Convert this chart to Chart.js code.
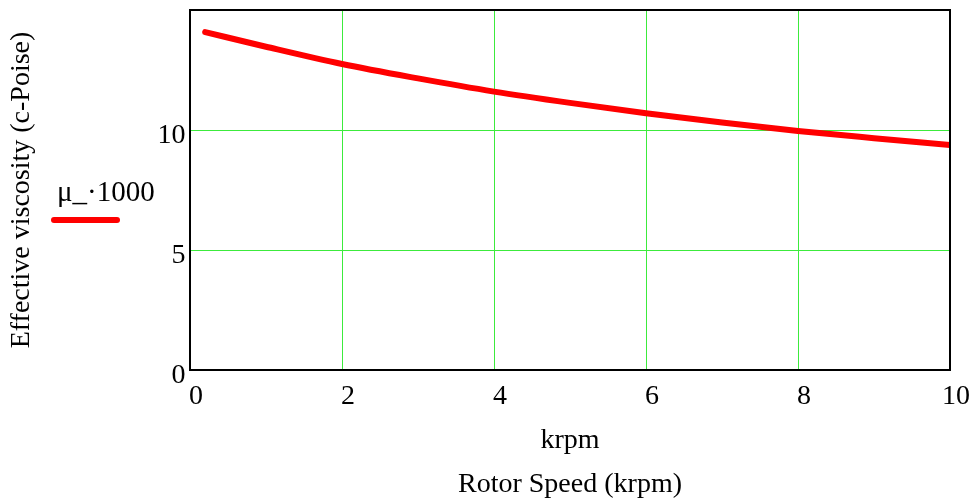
<!DOCTYPE html>
<html>
<head>
<meta charset="utf-8">
<script src="https://cdn.jsdelivr.net/npm/chart.js@4"></script>
<style>
  html, body { margin: 0; padding: 0; background: #ffffff; }
  #wrap { width: 973px; height: 502px; position: relative; }
</style>
</head>
<body>
<div id="wrap"><canvas id="c" width="973" height="502"></canvas></div>
<script>
// Rotor speed (krpm)
const speedKrpm = [0.2, 1, 2, 3, 4, 5, 6, 7, 8, 9, 10];
// Effective viscosity μ_·1000 (c-Poise)
const viscosity = [14.08, 13.47, 12.75, 12.15, 11.60, 11.13, 10.70, 10.31, 9.96, 9.66, 9.375];
const xTicks = [0, 2, 4, 6, 8, 10];
const yTicks = [0, 5, 10];
const seriesLabel = 'μ_·1000';
const xAxisTitle = 'krpm';
const chartTitle = 'Rotor Speed (krpm)';
const yAxisTitle = 'Effective viscosity (c-Poise)';

const FONT = 'Liberation Serif, Times New Roman, serif';
const GRID = 'rgb(60,235,60)';

const frame = {
  id: 'frame',
  afterDatasetsDraw(chart) {
    const {ctx, chartArea: a} = chart;
    ctx.save();
    ctx.strokeStyle = '#000';
    ctx.lineWidth = 2;
    ctx.strokeRect(a.left, a.top, a.right - a.left, a.bottom - a.top);
    ctx.restore();
  },
  afterDraw(chart) {
    const {ctx} = chart;
    ctx.save();
    ctx.font = '29px ' + FONT;
    ctx.fillStyle = '#000';
    ctx.textBaseline = 'alphabetic';
    ctx.textAlign = 'left';
    ctx.fillText(seriesLabel, 57, 201);
    ctx.strokeStyle = '#ff0000';
    ctx.lineWidth = 6;
    ctx.lineCap = 'round';
    ctx.beginPath();
    ctx.moveTo(54, 220);
    ctx.lineTo(117, 220);
    ctx.stroke();
    ctx.restore();
  }
};

new Chart(document.getElementById('c'), {
  type: 'line',
  data: {
    datasets: [{
      label: seriesLabel,
      data: speedKrpm.map((x, i) => ({x, y: viscosity[i]})),
      borderColor: '#ff0000',
      borderWidth: 6,
      borderCapStyle: 'round',
      borderJoinStyle: 'round',
      pointRadius: 0,
      cubicInterpolationMode: 'monotone',
      fill: false
    }]
  },
  options: {
    responsive: false,
    animation: false,
    devicePixelRatio: 1,
    layout: { padding: { top: 10, right: 23, left: 0, bottom: 0 } },
    plugins: {
      legend: { display: false },
      tooltip: { enabled: false },
      title: { display: false }
    },
    scales: {
      x: {
        type: 'linear',
        min: 0, max: 10,
        afterBuildTicks(s) { s.ticks = xTicks.map(v => ({value: v})); },
        afterFit(s) { s.height = 132; s.paddingLeft = 0; s.paddingRight = 0; },
        grid: { color: GRID, lineWidth: 1, drawTicks: false },
        border: { display: false },
        ticks: { color: '#000', font: { family: FONT, size: 28, lineHeight: 1.2 }, padding: 9.4, labelOffset: 6, maxRotation: 0, autoSkip: false },
        title: { display: true, text: [xAxisTitle, chartTitle], color: '#000', font: { family: FONT, size: 28, lineHeight: 1.6 }, padding: { top: 0, bottom: -5.4 } }
      },
      y: {
        type: 'linear',
        min: 0, max: 15,
        afterBuildTicks(s) { s.ticks = yTicks.map(v => ({value: v})); },
        afterFit(s) { s.width = 190; s.paddingTop = 0; s.paddingBottom = 0; },
        grid: { color: GRID, lineWidth: 1, drawTicks: false },
        border: { display: false },
        ticks: { color: '#000', font: { family: FONT, size: 28, lineHeight: 1.2 }, padding: 4.5, labelOffset: 6, autoSkip: false },
        title: { display: true, text: yAxisTitle, color: '#000', font: { family: FONT, size: 28, lineHeight: 1.2 }, padding: { top: 4.5, bottom: 0 } }
      }
    }
  },
  plugins: [frame]
});
</script>
</body>
</html>
